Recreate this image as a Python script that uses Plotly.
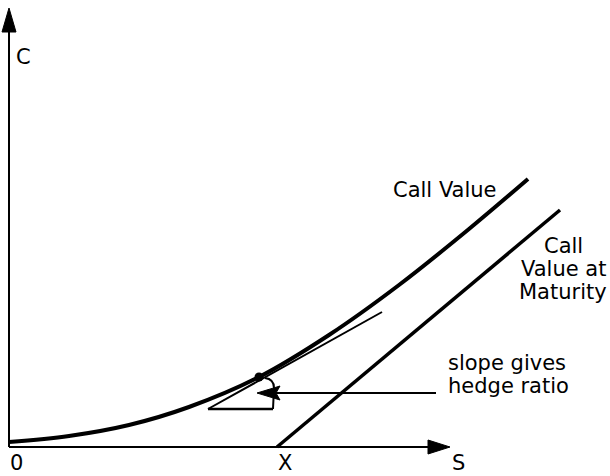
import plotly.graph_objects as go

# Coordinates: S (stock price) horizontally, C (call value) vertically, origin at axes crossing
call_S = [0, 60, 120, 180, 250, 320, 390, 460, 519]
call_C = [5, 11, 22, 40, 70, 112, 162, 218, 268]

strike_S = 268
maturity_S = [strike_S, 551]
maturity_C = [0, 237]

tangent_S = [199, 373]
tangent_C = [38, 135]

point_S = [250]
point_C = [70]

triangle_S = [199, 264]
triangle_base_C = 38

arrow_from = (427, 54)
arrow_to = (248, 54)

axis_x_end = 441
axis_y_end = 439

FONT = "DejaVu Sans"
FS = 21

fig = go.Figure()

# axes lines
fig.add_trace(go.Scatter(x=[0, axis_x_end - 20], y=[0, 0], mode="lines",
                         line=dict(color="black", width=2), hoverinfo="skip"))
fig.add_trace(go.Scatter(x=[0, 0], y=[0, axis_y_end - 22], mode="lines",
                         line=dict(color="black", width=2), hoverinfo="skip"))

# maturity line
fig.add_trace(go.Scatter(x=maturity_S, y=maturity_C, mode="lines",
                         line=dict(color="black", width=3.5), hoverinfo="skip"))
# call value curve
fig.add_trace(go.Scatter(x=call_S, y=call_C, mode="lines",
                         line=dict(color="black", width=4, shape="spline", smoothing=1.0),
                         hoverinfo="skip"))
# tangent line
fig.add_trace(go.Scatter(x=tangent_S, y=tangent_C, mode="lines",
                         line=dict(color="black", width=2), hoverinfo="skip"))
# triangle base
fig.add_trace(go.Scatter(x=triangle_S, y=[triangle_base_C, triangle_base_C], mode="lines",
                         line=dict(color="black", width=2.5), hoverinfo="skip"))
# point
fig.add_trace(go.Scatter(x=point_S, y=point_C, mode="markers",
                         marker=dict(color="black", size=9), hoverinfo="skip"))
# arrow shaft
fig.add_trace(go.Scatter(x=[arrow_from[0], arrow_to[0] + 18], y=[arrow_from[1], arrow_to[1]],
                         mode="lines", line=dict(color="black", width=2), hoverinfo="skip"))

shapes = []
# arc / vertical side of slope triangle
vx = triangle_S[1]
shapes.append(dict(type="path", xref="x", yref="y",
                   path=f"M {vx},{triangle_base_C} L {vx+1},{triangle_base_C+21} Q {vx+1},{point_C[0]-2} {point_S[0]+6},{point_C[0]-1}",
                   line=dict(color="black", width=2)))
# arrowheads
ax, ay = axis_x_end, 0
shapes.append(dict(type="path", xref="x", yref="y",
                   path=f"M {ax},{ay} L {ax-22},{ay+7} L {ax-22},{ay-7} Z",
                   fillcolor="black", line=dict(color="black", width=1)))
bx, by = 0, axis_y_end
shapes.append(dict(type="path", xref="x", yref="y",
                   path=f"M {bx},{by} L {bx-7},{by-24} L {bx+7},{by-24} Z",
                   fillcolor="black", line=dict(color="black", width=1)))
tx, ty = arrow_to
shapes.append(dict(type="path", xref="x", yref="y",
                   path=f"M {tx},{ty} L {tx+23},{ty+7} L {tx+19},{ty} L {tx+23},{ty-7} Z",
                   fillcolor="black", line=dict(color="black", width=1)))

def txt(x, y, s, xanchor="center"):
    return dict(x=x, y=y, xref="x", yref="y", text=s, showarrow=False,
                xanchor=xanchor, yanchor="middle",
                font=dict(family=FONT, size=FS, color="black"))

annotations = [
    txt(14, 390, "C"),
    txt(7, -16, "0"),
    txt(276, -16, "X"),
    txt(449, -16, "S"),
    txt(436, 257, "Call Value"),
    txt(554, 201, "Call"),
    txt(554, 178, "Value at"),
    txt(554, 155, "Maturity"),
    txt(437, 84, "slope gives", "left"),
    txt(437, 61, "hedge ratio", "left"),
]

fig.update_layout(
    width=610, height=476,
    margin=dict(l=0, r=0, t=0, b=0),
    paper_bgcolor="white", plot_bgcolor="white",
    showlegend=False,
    xaxis=dict(range=[-9, 601], visible=False, fixedrange=True),
    yaxis=dict(range=[-29, 447], visible=False, fixedrange=True),
    shapes=shapes,
    annotations=annotations,
)

fig.write_html("out.html",
               config={"displayModeBar": False, "staticPlot": True},
               post_script="document.body.style.margin='0';document.body.style.overflow='hidden';")
